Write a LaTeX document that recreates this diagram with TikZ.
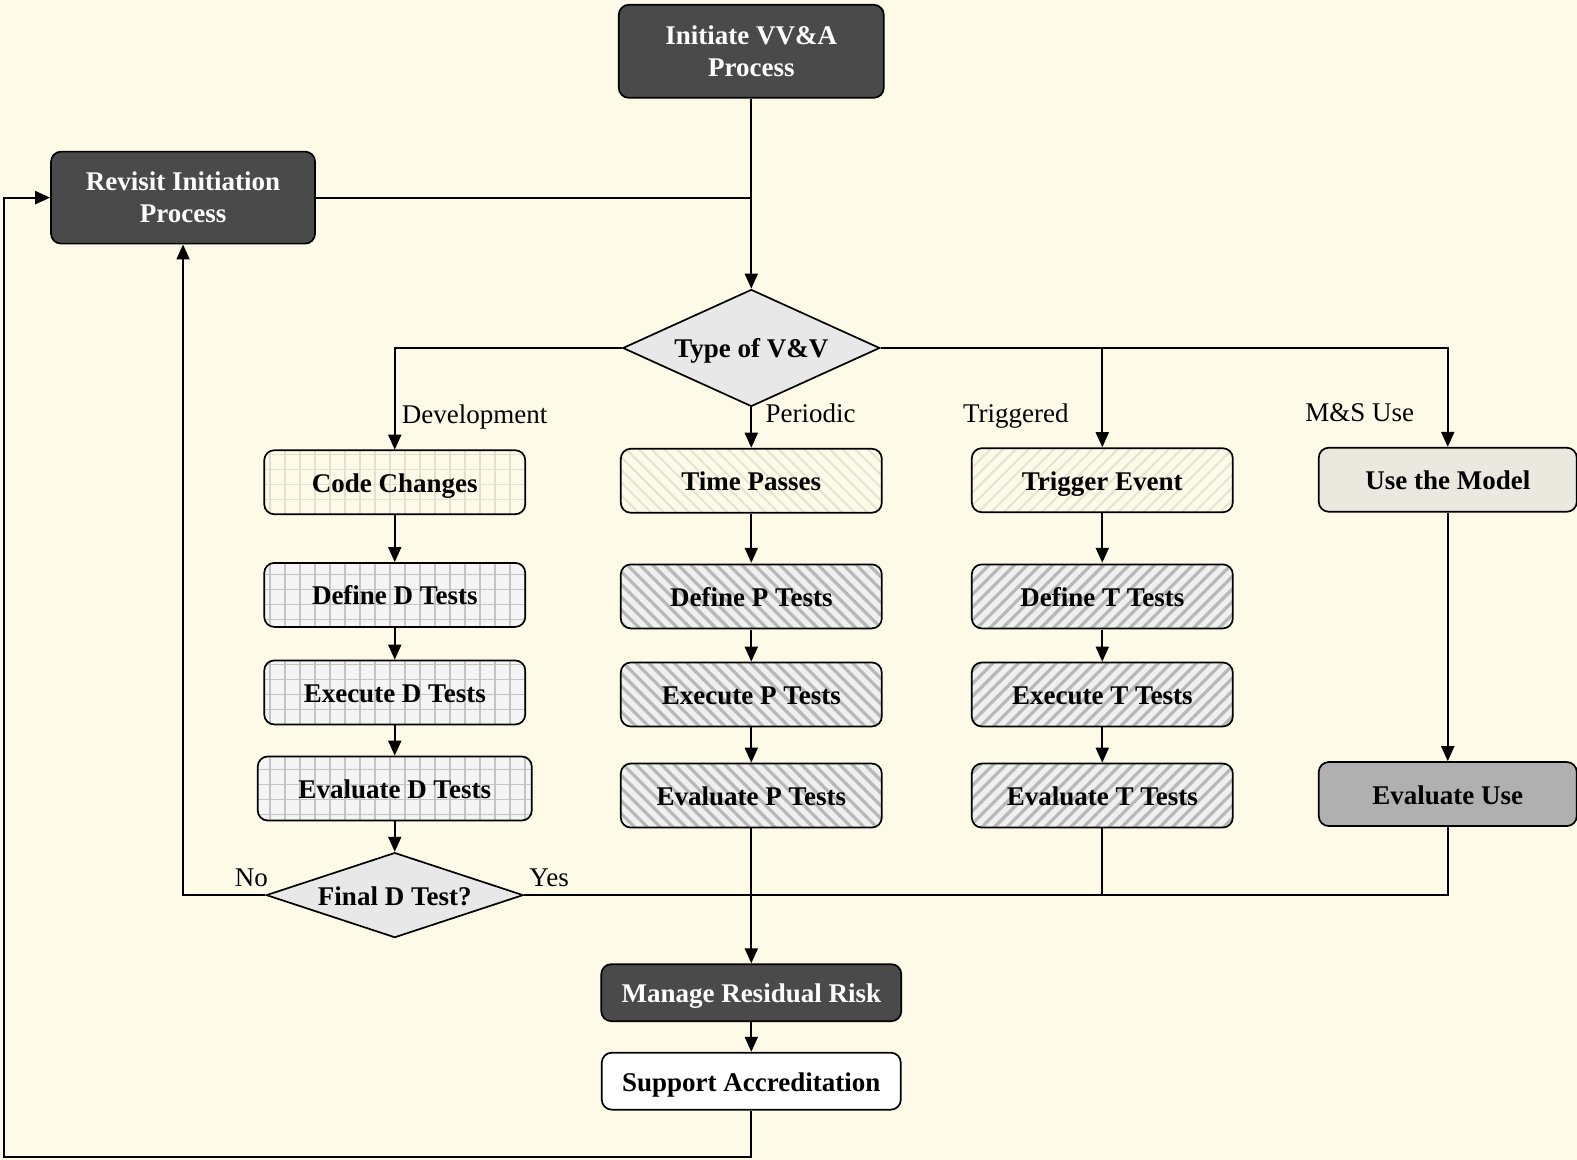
\documentclass[tikz,border=0pt]{standalone}
\usepackage{fontspec}
\setmainfont{Liberation Serif}
\usetikzlibrary{shapes.geometric,arrows.meta,patterns.meta}
\definecolor{bgcol}{HTML}{FEFAE8}
\definecolor{darkbox}{HTML}{4A4A4A}
\definecolor{diafill}{HTML}{E8E8E8}
\definecolor{usefill}{HTML}{EBE8DF}
\definecolor{evalfill}{HTML}{B0B0B0}
\definecolor{gridline}{HTML}{C4C4C4}
\definecolor{fgrid}{HTML}{E2DFD2}
\definecolor{stripe}{HTML}{B8B8B8}
\definecolor{fstripe}{HTML}{E6E2D5}
\begin{document}
\begin{tikzpicture}[x=1.0057pt,y=-1.0057pt,
  base/.style={rectangle, rounded corners=10pt, draw=black, line width=1.7pt,
    minimum width=261pt, minimum height=64pt, inner sep=0pt,
    font=\bfseries\fontsize{27}{32}\selectfont, align=center},
  one/.style={text height=21pt, text depth=1pt},
  darknode/.style={base, fill=darkbox, text=white},
  gridnode/.style={base, one, preaction={fill=white!96!black},
    pattern={Hatch[angle=0,distance=15pt,line width=1.6pt]}, pattern color=gridline},
  fgridnode/.style={base, one, preaction={fill=bgcol},
    pattern={Hatch[angle=0,distance=15pt,line width=1.2pt]}, pattern color=fgrid},
  pnode/.style={base, one, preaction={fill=white!94!black},
    pattern={Lines[angle=-45,distance=9pt,line width=3.2pt]}, pattern color=stripe},
  fpnode/.style={base, one, preaction={fill=bgcol},
    pattern={Lines[angle=-45,distance=9pt,line width=2pt]}, pattern color=fstripe},
  tnode/.style={base, one, preaction={fill=white!94!black},
    pattern={Lines[angle=45,distance=9pt,line width=3.2pt]}, pattern color=stripe},
  ftnode/.style={base, one, preaction={fill=bgcol},
    pattern={Lines[angle=45,distance=9pt,line width=2pt]}, pattern color=fstripe},
  dia/.style={diamond, draw=black, line width=1.7pt, fill=diafill, inner sep=0pt,
    font=\bfseries\fontsize{27}{32}\selectfont, text height=21pt, text depth=1pt},
  lbl/.style={font=\fontsize{27}{32}\selectfont, inner sep=0pt, text height=20pt, text depth=2pt},
  conn/.style={line width=1.9pt},
  arr/.style={conn, -{Triangle[length=15pt,width=13pt]}}
]
\fill[bgcol] (0,0) rectangle (1568,1153);
\useasboundingbox (0,0) rectangle (1568,1153);

% nodes
\node[darknode, minimum width=265pt, minimum height=93pt] (init) at (747,51) {Initiate VV\&A\\Process};
\node[darknode, minimum width=264pt, minimum height=92pt] (revisit) at (182,196.5) {Revisit Initiation\\Process};
\node[dia, minimum width=257pt, minimum height=117pt, aspect=2.2] (type) at (747,346) {Type of V\&V};

\node[fgridnode] (code) at (392.5,479.5) {Code Changes};
\node[gridnode] (defD) at (392.5,591.5) {Define D Tests};
\node[gridnode] (exeD) at (392.5,688.5) {Execute D Tests};
\node[gridnode, minimum width=274pt] (evaD) at (392.5,784) {Evaluate D Tests};
\node[dia, minimum width=257pt, minimum height=85pt, aspect=3] (final) at (392.5,890) {Final D Test?};

\node[fpnode] (time) at (747,478) {Time Passes};
\node[pnode] (defP) at (747,593) {Define P Tests};
\node[pnode] (exeP) at (747,690.5) {Execute P Tests};
\node[pnode] (evaP) at (747,791) {Evaluate P Tests};

\node[ftnode] (trig) at (1096,477.5) {Trigger Event};
\node[tnode] (defT) at (1096,593) {Define T Tests};
\node[tnode] (exeT) at (1096,690.5) {Execute T Tests};
\node[tnode] (evaT) at (1096,791) {Evaluate T Tests};

\node[base, one, fill=usefill, minimum width=258pt] (use) at (1439.5,477) {Use the Model};
\node[base, one, fill=evalfill, minimum width=258pt] (evaU) at (1439.5,789.5) {Evaluate Use};

\node[darknode, one, minimum width=300pt, minimum height=57pt] (manage) at (747,987) {Manage Residual Risk};
\node[base, one, fill=white, minimum width=299pt, minimum height=57pt] (support) at (747,1075) {Support Accreditation};

% labels
\node[lbl] (lDev) at (472,412) {Development};
\node[lbl] (lPer) at (806,411) {Periodic};
\node[lbl] (lTrig) at (1010,411) {Triggered};
\node[lbl] (lMS) at (1352,410) {M\&S Use};
\node[lbl] (lNo) at (250,872) {No};
\node[lbl] (lYes) at (546,872) {Yes};

% connectors
\coordinate (j1) at (747,196.5);
\coordinate (j2) at (747,890);
\coordinate (c1) at (4,1150);
\draw[arr] (init) -- (type);
\draw[conn] (revisit.east) -- (j1);
\draw[arr] (type.west) -| (code);
\draw[arr] (type) -- (time);
\draw[arr] (type.east) -| (trig);
\draw[arr] (type.east) -| (use);

\draw[arr] (code) -- (defD);
\draw[arr] (defD) -- (exeD);
\draw[arr] (exeD) -- (evaD);
\draw[arr] (evaD) -- (final);
\draw[arr] (final.west) -| (revisit.south);
\draw[conn] (final.east) -- (j2);

\draw[arr] (time) -- (defP);
\draw[arr] (defP) -- (exeP);
\draw[arr] (exeP) -- (evaP);
\draw[arr] (evaP) -- (manage);

\draw[arr] (trig) -- (defT);
\draw[arr] (defT) -- (exeT);
\draw[arr] (exeT) -- (evaT);
\draw[conn] (evaT.south) |- (j2);

\draw[arr] (use) -- (evaU);
\draw[conn] (evaU.south) |- (j2);

\draw[arr] (manage) -- (support);
\draw[arr] (support.south) |- (c1) |- (revisit.west);
\end{tikzpicture}
\end{document}
